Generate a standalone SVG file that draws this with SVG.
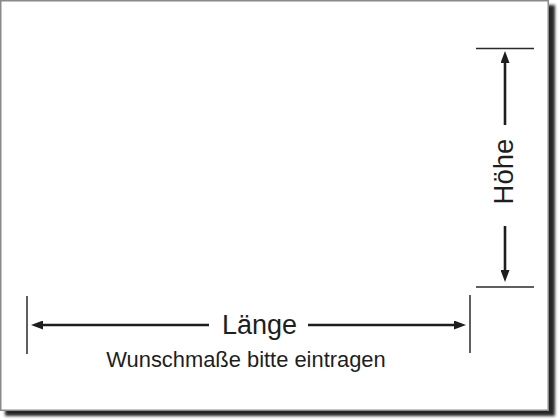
<svg xmlns="http://www.w3.org/2000/svg" width="560" height="420" viewBox="0 0 560 420">
  <defs>
    <filter id="shadow" x="-5%" y="-5%" width="110%" height="110%">
      <feGaussianBlur stdDeviation="1.5"/>
    </filter>
    <marker id="arrow" viewBox="0 0 12 9" refX="0" refY="4.5" markerWidth="12" markerHeight="9" markerUnits="userSpaceOnUse" orient="auto">
      <path d="M0,0 L12,4.5 L0,9 z" fill="#1e1e1e"/>
    </marker>
  </defs>
  <style>
    .dim { stroke: #1e1e1e; stroke-width: 2.6; fill: none; }
    .tick { stroke: #2a2a2a; stroke-width: 1.5; fill: none; }
    .label { font-family: "Liberation Sans", Arial, sans-serif; fill: #1e1e1e; }
  </style>
  <rect width="560" height="420" fill="#ffffff"/>
  <g id="sheet">
    <rect x="5" y="5" width="550" height="411" fill="#262626" filter="url(#shadow)"/>
    <rect x="0.75" y="0.75" width="547.5" height="409.5" fill="#ffffff" stroke="#8a8a8a" stroke-width="1.5"/>
  </g>
  <g id="connectors">
    <line class="tick" x1="27" y1="296" x2="27" y2="354"/>
    <line class="tick" x1="470" y1="295" x2="470" y2="353"/>
    <line class="tick" x1="476" y1="48.5" x2="534" y2="48.5"/>
    <line class="tick" x1="476" y1="287" x2="534" y2="287"/>
    <line class="dim" x1="209" y1="325" x2="43" y2="325" marker-end="url(#arrow)"/>
    <line class="dim" x1="308" y1="325" x2="454" y2="325" marker-end="url(#arrow)"/>
    <line class="dim" x1="505" y1="125" x2="505" y2="63" marker-end="url(#arrow)"/>
    <line class="dim" x1="505" y1="226" x2="505" y2="270" marker-end="url(#arrow)"/>
  </g>
  <g id="labels">
    <text class="label" x="259.5" y="334" font-size="27" text-anchor="middle">Länge</text>
    <text class="label" x="246" y="367" font-size="21.9" text-anchor="middle">Wunschmaße bitte eintragen</text>
    <text class="label" transform="translate(513,171.5) rotate(-90)" x="0" y="0" font-size="27.5" text-anchor="middle">Höhe</text>
  </g>
</svg>
